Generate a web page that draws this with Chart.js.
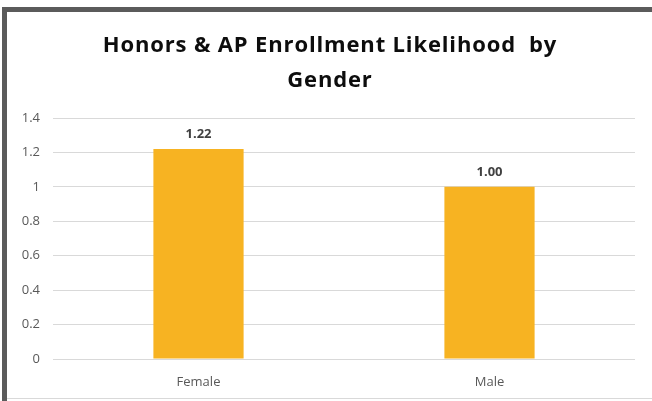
<!DOCTYPE html>
<html>
<head>
<meta charset="utf-8">
<script src="https://cdn.jsdelivr.net/npm/chart.js@4.4.1/dist/chart.umd.min.js"></script>
<style>
  html, body { margin: 0; padding: 0; background: #ffffff; }
  #wrap { position: relative; width: 652px; height: 401px; overflow: hidden; }
  #c { position: absolute; left: 0; top: 0; }
  .frame-top { position: absolute; left: 2px; top: 7px; width: 650px; height: 5px; background: #5b5b5b; }
  .frame-left { position: absolute; left: 2px; top: 7px; width: 5px; height: 394px; background: #5b5b5b; }
  .frame-bottom { position: absolute; left: 7px; top: 398px; width: 645px; height: 1px; background: #d9d9d9; }
</style>
</head>
<body>
<div id="wrap">
  <canvas id="c" width="652" height="401"></canvas>
  <div class="frame-top"></div>
  <div class="frame-left"></div>
  <div class="frame-bottom"></div>
</div>
<script>
const categories = ["Female", "Male"];
const likelihood = [1.22, 1.00];
const valueLabels = ["1.22", "1.00"];
const titleLines = ["Honors & AP Enrollment Likelihood  by", "Gender"];
const yTicks = [0, 0.2, 0.4, 0.6, 0.8, 1, 1.2, 1.4];

const valueLabelPlugin = {
  id: 'valueLabels',
  afterDatasetsDraw(chart) {
    const ctx = chart.ctx;
    const meta = chart.getDatasetMeta(0);
    ctx.save();
    ctx.font = 'bold 13px "Open Sans"';
    ctx.fillStyle = '#404040';
    ctx.textAlign = 'center';
    ctx.textBaseline = 'bottom';
    meta.data.forEach((bar, i) => {
      ctx.fillText(valueLabels[i], bar.x, bar.y - 8);
    });
    ctx.restore();
  }
};

const titleStylePlugin = {
  id: 'titleStyle',
  afterInit(chart) {
    const tb = chart.titleBlock;
    if (!tb || tb._patched) return;
    const orig = tb.draw;
    tb.draw = function () {
      const ctx = chart.ctx;
      ctx.save();
      ctx.translate(12.5, 0);
      if ('letterSpacing' in ctx) ctx.letterSpacing = '0.85px';
      orig.apply(this, arguments);
      ctx.restore();
    };
    tb._patched = true;
  }
};

new Chart(document.getElementById('c'), {
  type: 'bar',
  data: {
    labels: categories,
    datasets: [{
      data: likelihood,
      backgroundColor: '#F7B322',
      borderWidth: 0,
      categoryPercentage: 1.0,
      barPercentage: 0.31
    }]
  },
  options: {
    responsive: false,
    animation: false,
    layout: { padding: { left: 0, right: 17, top: 0, bottom: 0 } },
    plugins: {
      legend: { display: false },
      tooltip: { enabled: false },
      title: {
        display: true,
        text: titleLines,
        color: '#0d0d0d',
        font: { family: '"Open Sans"', size: 22, weight: 'bold', lineHeight: 1.6 },
        padding: { top: 28, bottom: 19.6 }
      }
    },
    scales: {
      x: {
        grid: { display: false },
        border: { display: false },
        ticks: { color: '#595959', font: { family: '"Open Sans"', size: 13 }, padding: 7 },
        afterFit(scale) { scale.height = 42; }
      },
      y: {
        min: 0,
        max: 1.4,
        afterBuildTicks(scale) { scale.ticks = yTicks.map(v => ({ value: v })); },
        grid: { color: '#d9d9d9', lineWidth: 1, drawTicks: false },
        border: { display: false },
        ticks: {
          color: '#595959',
          font: { family: '"Open Sans"', size: 13 },
          padding: 13,
          callback: (v) => String(v)
        },
        afterFit(scale) { scale.width = 53; }
      }
    }
  },
  plugins: [valueLabelPlugin, titleStylePlugin]
});
</script>
</body>
</html>
